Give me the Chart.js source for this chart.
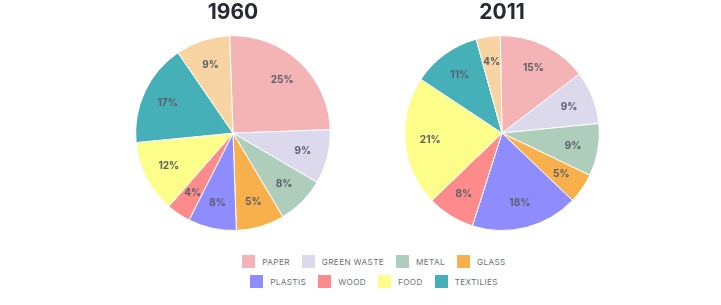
<!DOCTYPE html>
<html>
<head>
<meta charset="utf-8">
<style>
  body {
    margin: 0;
    padding: 0;
    background: #ffffff;
    font-family: "Inter", sans-serif;
  }
  #wrap {
    position: relative;
    width: 721px;
    height: 305px;
  }
  .pie-box {
    position: absolute;
    top: 0;
    width: 196px;
    height: 231px;
  }
  #legend {
    position: absolute;
    left: 224px;
    top: 255px;
    width: 300px;
  }
  .legend-row {
    display: flex;
    justify-content: center;
    margin-bottom: 7px;
  }
  .legend-item {
    display: flex;
    align-items: center;
    margin: 0 6px;
  }
  .legend-box {
    width: 13px;
    height: 13px;
    margin-right: 7px;
  }
  .legend-text {
    font-size: 8.2px;
    letter-spacing: 0.35px;
    color: #6c6f77;
    white-space: nowrap;
  }
</style>
</head>
<body>
<div id="wrap">
  <div class="pie-box" style="left:135px"><canvas id="pie1960"></canvas></div>
  <div class="pie-box" style="left:404px"><canvas id="pie2011"></canvas></div>
  <div id="legend"></div>
</div>

<script src="https://cdn.jsdelivr.net/npm/chart.js"></script>
<script>
// categories (last slice has no legend entry)
const categories = ["PAPER", "GREEN WASTE", "METAL", "GLASS", "PLASTIS", "WOOD", "FOOD", "TEXTILIES", "OTHER"];
const legendCount = 8;
const colors = ["#f4b3b4", "#dcd9ed", "#aecebb", "#f7b04b", "#8f8cfe", "#fe8b8b", "#fdfd89", "#45b0b8", "#f9d4a3"];

// slice sizes
const values1960 = [25, 9, 8, 8, 8, 4, 12, 17, 9];
const values2011 = [14.9, 8.8, 8.7, 5.0, 17.8, 7.9, 21.5, 11.4, 4.0];

// printed labels
const labels1960 = ["25%", "9%", "8%", "5%", "8%", "4%", "12%", "17%", "9%"];
const labels2011 = ["15%", "9%", "9%", "5%", "18%", "8%", "21%", "11%", "4%"];

// draws the percentage text inside each slice
const sliceLabels = {
  id: "sliceLabels",
  afterDatasetsDraw(chart, args, opts) {
    const ctx = chart.ctx;
    const meta = chart.getDatasetMeta(0);
    ctx.save();
    ctx.font = "bold 10px Inter";
    ctx.fillStyle = "#5b5d69";
    ctx.textAlign = "center";
    ctx.textBaseline = "middle";
    meta.data.forEach((arc, i) => {
      const mid = (arc.startAngle + arc.endAngle) / 2;
      const r = arc.outerRadius * 0.74;
      ctx.fillText(opts.texts[i], arc.x + Math.cos(mid) * r, arc.y + Math.sin(mid) * r);
    });
    ctx.restore();
  }
};

function makePie(id, title, values, texts, rotation) {
  new Chart(document.getElementById(id), {
    type: "pie",
    data: {
      labels: categories,
      datasets: [{
        data: values,
        backgroundColor: colors,
        borderColor: "#ffffff",
        borderWidth: 1
      }]
    },
    options: {
      responsive: true,
      maintainAspectRatio: false,
      animation: false,
      rotation: rotation,
      layout: { padding: 0 },
      plugins: {
        legend: { display: false },
        tooltip: { enabled: false },
        title: {
          display: true,
          text: title,
          color: "#262a33",
          font: { family: "Inter", size: 21, weight: "bold" },
          padding: { top: 0, bottom: 10 }
        },
        sliceLabels: { texts: texts }
      }
    },
    plugins: [sliceLabels]
  });
}

makePie("pie1960", "1960", values1960, labels1960, -2);
makePie("pie2011", "2011", values2011, labels2011, -1);

// legend below both pies, two rows of four
const legend = document.getElementById("legend");
for (let row = 0; row < 2; row++) {
  const rowDiv = document.createElement("div");
  rowDiv.className = "legend-row";
  for (let i = row * 4; i < row * 4 + 4 && i < legendCount; i++) {
    rowDiv.innerHTML += `
      <div class="legend-item">
        <div class="legend-box" style="background:${colors[i]}"></div>
        <span class="legend-text">${categories[i]}</span>
      </div>`;
  }
  legend.appendChild(rowDiv);
}
</script>
</body>
</html>
